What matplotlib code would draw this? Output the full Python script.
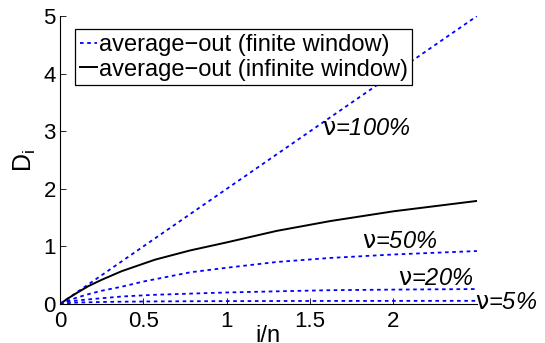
import matplotlib
matplotlib.use("Agg")
import matplotlib.pyplot as plt

# ── Data ──────────────────────────────────────────────────────────────────────

x_full = [0.0, 2.5]
d_full = [0.0, 5.0]                       # nu = 100 %

x_inf = [0.0, 0.05, 0.1, 0.17, 0.25, 0.37, 0.5, 0.57, 0.78, 1.0, 1.3, 1.62, 2.0, 2.5]
d_inf = [0.0, 0.10, 0.19, 0.31, 0.42, 0.57, 0.70, 0.77, 0.93, 1.07, 1.27, 1.44, 1.61, 1.79]

x_win = [0.0, 0.05, 0.1, 0.17, 0.25, 0.37, 0.5, 0.57, 0.78, 1.0, 1.3, 1.62, 2.0, 2.5]
d_50 = [0.0, 0.06, 0.11, 0.17, 0.23, 0.30, 0.39, 0.43, 0.55, 0.63, 0.73, 0.80, 0.86, 0.92]
d_20 = [0.0, 0.04, 0.06, 0.08, 0.10, 0.13, 0.15, 0.16, 0.18, 0.20, 0.22, 0.24, 0.25, 0.26]
d_05 = [0.0, 0.015, 0.025, 0.03, 0.035, 0.04, 0.043, 0.045, 0.048, 0.05, 0.052, 0.053, 0.054, 0.055]

nu_labels = [r"$\mathrm{\nu}$=100%", r"$\mathrm{\nu}$=50%",
             r"$\mathrm{\nu}$=20%", r"$\mathrm{\nu}$=5%"]
nu_label_pos = [(1.57, 3.05), (1.81, 1.09), (2.03, 0.45), (2.49, 0.03)]

x_ticks = [0, 0.5, 1, 1.5, 2]
x_ticklabels = ["0", "0.5", "1", "1.5", "2"]
y_ticks = [0, 1, 2, 3, 4, 5]

# ── Plot ──────────────────────────────────────────────────────────────────────

plt.rcParams['font.family'] = ['Liberation Sans', 'DejaVu Sans']

fig = plt.figure(figsize=(5.45, 3.43), dpi=100)
ax = fig.add_axes([0.110, 0.1137, 0.765, 0.8393])

dot = (0, (2.0, 2.0))
blue = (0, 0, 1)

ax.plot(x_full, d_full, color=blue, linestyle=dot, linewidth=1.3,
        label="average\u2212out (finite window)")
ax.plot(x_inf, d_inf, color="black", linestyle="-", linewidth=1.4,
        label="average\u2212out (infinite window)")
ax.plot(x_win, d_50, color=blue, linestyle=dot, linewidth=1.3)
ax.plot(x_win, d_20, color=blue, linestyle=dot, linewidth=1.3)
ax.plot(x_win, d_05, color=blue, linestyle=dot, linewidth=1.3)

for txt, (tx, ty) in zip(nu_labels, nu_label_pos):
    ax.text(tx, ty, txt, fontsize=17, style="italic", ha="left", va="center")

ax.set_xlim(0, 2.5)
ax.set_ylim(0, 5)
ax.set_xticks(x_ticks)
ax.set_xticklabels(x_ticklabels)
ax.set_yticks(y_ticks)
ax.tick_params(direction="in", length=4, width=0.6, labelsize=16)
ax.tick_params(axis="x", pad=5)
ax.tick_params(axis="y", pad=3)

ax.spines["top"].set_visible(False)
ax.spines["right"].set_visible(False)
for s in ("left", "bottom"):
    ax.spines[s].set_linewidth(0.8)

ax.set_xlabel("i/n", fontsize=17, labelpad=-5)
ax.set_ylabel("D$_\\mathregular{i}$", fontsize=18, labelpad=4)

leg = ax.legend(loc="upper left", bbox_to_anchor=(0.036, 0.955), fontsize=17,
                handlelength=0.75, handletextpad=0.05, borderpad=0.2,
                labelspacing=0.12, fancybox=False, framealpha=1,
                edgecolor="black", borderaxespad=0)
leg.get_frame().set_linewidth(0.9)

fig.savefig("out.png", dpi=100)
